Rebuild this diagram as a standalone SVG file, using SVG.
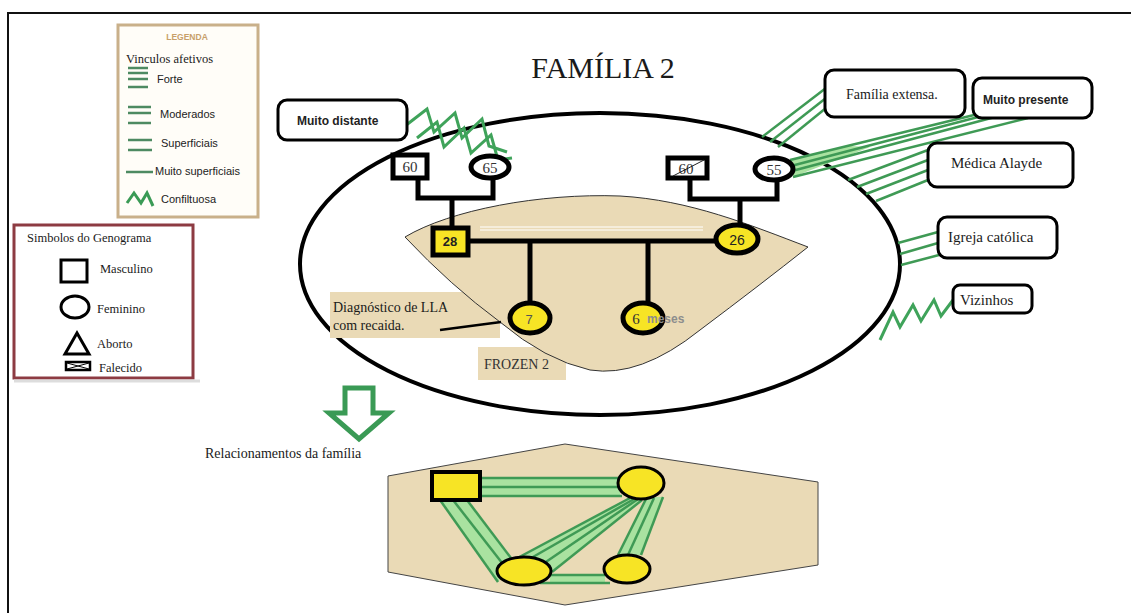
<svg xmlns="http://www.w3.org/2000/svg" width="1131" height="613" viewBox="0 0 1131 613">
  <style>
    .serif { font-family: "Liberation Serif", "Times New Roman", serif; fill: #1a1a1a; }
    .sans { font-family: "Liberation Sans", Arial, sans-serif; fill: #222; }
    .bold { font-weight: bold; }
    .geno { fill: none; stroke: #000; stroke-width: 5; }
    .male { stroke: #000; stroke-width: 5; }
    .yellow { fill: #f7e425; }
    .white { fill: #fff; }
    .box { fill: #fff; stroke: #000; stroke-width: 3; }
    .tie { stroke: #3f9a55; stroke-width: 2.5; fill: none; }
    .tiefill { fill: #a9e2a0; }
    .zig { stroke: #3fa35a; stroke-width: 3; fill: none; stroke-linejoin: miter; }
    .sym { fill: #fff; stroke: #000; stroke-width: 3; }
    .tan { fill: #eadab6; }
  </style>

  <!-- page frame -->
  <rect x="0" y="0" width="1131" height="613" fill="#fff"/>
  <path d="M8,613 V13 H1131" fill="none" stroke="#111" stroke-width="2"/>

  <!-- legend: affective ties -->
  <g id="legend-ties">
    <rect x="118" y="25" width="140" height="192" fill="#fffdf8" stroke="#c9b08a" stroke-width="3"/>
    <text x="187" y="40" text-anchor="middle" class="sans bold" font-size="8.5" style="fill:#c8a06a">LEGENDA</text>
    <text x="126" y="63" class="serif" font-size="12.5">Vinculos afetivos</text>
    <g stroke="#4d8a62" stroke-width="2.5">
      <line x1="128" y1="68" x2="148" y2="68"/>
      <line x1="128" y1="73" x2="148" y2="73"/>
      <line x1="128" y1="79" x2="148" y2="79"/>
      <line x1="128" y1="87" x2="148" y2="87"/>
      <line x1="128" y1="107" x2="151" y2="107"/>
      <line x1="128" y1="113" x2="151" y2="113"/>
      <line x1="128" y1="123" x2="151" y2="123"/>
      <line x1="128" y1="140" x2="152" y2="140"/>
      <line x1="128" y1="150" x2="152" y2="150"/>
      <line x1="126" y1="172" x2="153" y2="172"/>
    </g>
    <polyline points="127,203 134,193 141,203 147,193 153,206" fill="none" stroke="#3a9a55" stroke-width="3"/>
    <text x="157" y="83" class="sans" font-size="11">Forte</text>
    <text x="160" y="118" class="sans" font-size="11">Moderados</text>
    <text x="161" y="147" class="sans" font-size="11">Superficiais</text>
    <text x="155" y="175" class="sans" font-size="11">Muito superficiais</text>
    <text x="161" y="203" class="sans" font-size="11">Confiltuosa</text>
  </g>

  <!-- legend: genogram symbols -->
  <g id="legend-symbols">
    <rect x="14" y="225" width="179" height="153" fill="#fff" stroke="#8d3b42" stroke-width="3"/>
    <line x1="14" y1="381" x2="200" y2="381" stroke="#ddd" stroke-width="3"/>
    <text x="27" y="242" class="serif" font-size="12.5">Simbolos do Genograma</text>
    <rect x="61" y="260" width="26" height="22" class="sym"/>
    <text x="100" y="273" class="serif" font-size="12.5">Masculino</text>
    <ellipse cx="75" cy="307" rx="14" ry="11" class="sym"/>
    <text x="97" y="313" class="serif" font-size="12.5">Feminino</text>
    <polygon points="77,333 65,354 89,354" class="sym"/>
    <text x="97" y="348" class="serif" font-size="12.5">Aborto</text>
    <rect x="66" y="362" width="24" height="8" fill="#fff" stroke="#000" stroke-width="2.5"/>
    <path d="M67,363 L89,369 M67,369 L89,363" stroke="#000" stroke-width="1"/>
    <text x="99" y="372" class="serif" font-size="12.5">Falecido</text>
  </g>

  <!-- title -->
  <text id="title" x="603" y="78" text-anchor="middle" class="serif" font-size="30">FAMÍLIA 2</text>

  <!-- household ellipse and shaded core -->
  <g id="household">
    <ellipse cx="600" cy="264" rx="300" ry="151" fill="#fff" stroke="#000" stroke-width="4"/>
    <rect x="330" y="292" width="170" height="46" class="tan"/>
    <rect x="478" y="347" width="88" height="33" class="tan"/>
    <path d="M405,237 Q450,285 500,322 Q545,360 590,370 Q640,378 700,330 Q760,285 808,247 C750,225 690,200 620,196 C540,193 450,210 405,237 Z" class="tan" stroke="#333" stroke-width="1"/>
    <path d="M480,227 H703 M480,230 H703" stroke="#fff" stroke-width="1.2"/>
  </g>

  <!-- relationship ties -->
  <g id="connectors">
    <!-- conflict: Muito distante -->
    <polyline points="405,126 427,109 434,132 455,113 462,138 482,119 489,146 507,152" class="zig"/>
    <polyline points="417,138 437,122 444,147 464,128 471,153 491,135 498,160 512,158" class="zig"/>
    <!-- Família extensa -->
    <line x1="826" y1="88" x2="762" y2="137" class="tie"/>
    <line x1="826" y1="98" x2="770" y2="142" class="tie"/>
    <line x1="826" y1="108" x2="778" y2="147" class="tie"/>
    <!-- Muito presente -->
    <polygon points="850,146 870,147 793,177 790,160" class="tiefill"/>
    <line x1="974" y1="115" x2="790" y2="160" class="tie"/>
    <line x1="982" y1="116" x2="791" y2="166" class="tie"/>
    <line x1="995" y1="117" x2="792" y2="171" class="tie"/>
    <line x1="1028" y1="118" x2="793" y2="177" class="tie"/>
    <!-- Médica Alayde -->
    <line x1="928" y1="150" x2="848" y2="180" class="tie"/>
    <line x1="928" y1="160" x2="857" y2="187" class="tie"/>
    <line x1="928" y1="170" x2="866" y2="194" class="tie"/>
    <line x1="928" y1="180" x2="876" y2="201" class="tie"/>
    <!-- Igreja católica -->
    <line x1="938" y1="232" x2="898" y2="243" class="tie"/>
    <line x1="938" y1="243" x2="900" y2="254" class="tie"/>
    <line x1="939" y1="255" x2="901" y2="265" class="tie"/>
    <!-- conflict: Vizinhos -->
    <polyline points="953,300 941,316 934,300 921,321 913,305 900,327 893,312 880,340" class="zig"/>
  </g>

  <!-- genogram lines -->
  <g id="genogram-lines">
    <path d="M418,178 V198 H493 V178" class="geno"/>
    <path d="M452,198 V228" class="geno"/>
    <path d="M690,178 V199 H777 V180" class="geno"/>
    <path d="M740,199 V226" class="geno"/>
    <path d="M468,241 H717" class="geno"/>
    <path d="M530,241 V304" class="geno"/>
    <path d="M648,241 V303" class="geno"/>
    <line x1="440" y1="330" x2="501" y2="322" stroke="#000" stroke-width="2.5"/>
  </g>

  <!-- family members -->
  <g id="grandfather-paternal">
    <rect x="393" y="155" width="34" height="23" class="white male"/>
    <text x="410" y="172" text-anchor="middle" class="serif" font-size="15" style="fill:#333">60</text>
  </g>
  <g id="grandmother-paternal">
    <ellipse cx="490" cy="167" rx="19" ry="11" class="white male"/>
    <text x="490" y="173" text-anchor="middle" class="serif" font-size="15" style="fill:#333">65</text>
  </g>
  <g id="grandfather-maternal">
    <rect x="668" y="158" width="39" height="20" class="white male"/>
    <text x="686" y="174" text-anchor="middle" class="serif" font-size="15" style="fill:#333">60</text>
    <line x1="673" y1="176" x2="704" y2="160" stroke="#222" stroke-width="1"/>
  </g>
  <g id="grandmother-maternal">
    <ellipse cx="774" cy="169" rx="19" ry="11" class="white male"/>
    <text x="774" y="175" text-anchor="middle" class="serif" font-size="15" style="fill:#333">55</text>
  </g>
  <g id="father">
    <rect x="433" y="228" width="35" height="27" class="yellow male"/>
    <text x="450" y="246" text-anchor="middle" class="sans bold" font-size="13">28</text>
  </g>
  <g id="mother">
    <ellipse cx="737" cy="239" rx="21" ry="14" class="yellow male"/>
    <text x="737" y="245" text-anchor="middle" class="sans" font-size="14">26</text>
  </g>
  <g id="child-7">
    <ellipse cx="530" cy="318" rx="20" ry="15" class="yellow male"/>
    <text x="529" y="324" text-anchor="middle" class="sans" font-size="13" style="fill:#555">7</text>
  </g>
  <g id="child-6m">
    <ellipse cx="643" cy="318" rx="20" ry="15" class="yellow male"/>
    <text x="636" y="324" text-anchor="middle" class="serif" font-size="15" style="fill:#333">6</text>
    <text x="647" y="323" class="sans bold" font-size="12" style="fill:#8d8d8d">meses</text>
  </g>

  <!-- annotations -->
  <g id="annotations">
    <text x="333" y="312" class="serif" font-size="14">Diagnóstico de LLA</text>
    <text x="333" y="330" class="serif" font-size="14">com recaida.</text>
    <text x="484" y="369" class="serif" font-size="14" style="fill:#333">FROZEN 2</text>
  </g>

  <!-- external system boxes -->
  <g id="muito-distante">
    <rect x="278" y="100" width="129" height="40" rx="9" class="box"/>
    <text x="297" y="125" class="sans bold" font-size="12">Muito distante</text>
  </g>
  <g id="familia-extensa">
    <rect x="825" y="70" width="140" height="47" rx="9" class="box"/>
    <text x="846" y="99" class="serif" font-size="14">Família extensa.</text>
  </g>
  <g id="muito-presente">
    <rect x="973" y="78" width="119" height="40" rx="9" class="box"/>
    <text x="983" y="104" class="sans bold" font-size="12">Muito presente</text>
  </g>
  <g id="medica-alayde">
    <rect x="928" y="143" width="145" height="44" rx="9" class="box"/>
    <text x="951" y="168" class="serif" font-size="15">Médica Alayde</text>
  </g>
  <g id="igreja-catolica">
    <rect x="938" y="217" width="119" height="41" rx="9" class="box"/>
    <text x="948" y="242" class="serif" font-size="15">Igreja católica</text>
  </g>
  <g id="vizinhos">
    <rect x="953" y="285" width="79" height="28" rx="7" class="box"/>
    <text x="960" y="305" class="serif" font-size="15">Vizinhos</text>
  </g>

  <!-- transition arrow -->
  <g id="arrow">
    <polygon points="345,388 373,388 373,413 389,413 359,439 329,413 345,413" fill="#fff" stroke="#3a9a55" stroke-width="5" stroke-linejoin="miter"/>
    <text x="205" y="458" class="serif" font-size="14">Relacionamentos da família</text>
  </g>

  <!-- family relationships panel -->
  <g id="relations-panel">
    <polygon points="388,476 565,444 818,482 818,565 565,605 388,572" class="tan" stroke="#444" stroke-width="1"/>
  </g>
  <g id="relations-ties">
    <polygon points="480,478 620,478 620,496 480,496" class="tiefill"/>
    <line x1="480" y1="478" x2="622" y2="478" class="tie"/>
    <line x1="480" y1="487" x2="620" y2="487" class="tie"/>
    <line x1="480" y1="496" x2="622" y2="496" class="tie"/>
    <polygon points="440,500 467,500 513,562 498,582" class="tiefill"/>
    <line x1="440" y1="500" x2="498" y2="582" class="tie"/>
    <line x1="453" y1="500" x2="506" y2="568" class="tie"/>
    <line x1="467" y1="500" x2="514" y2="562" class="tie"/>
    <polygon points="630,498 642,500 552,572 510,562" class="tiefill"/>
    <line x1="630" y1="498" x2="510" y2="562" class="tie"/>
    <line x1="634" y1="499" x2="526" y2="561" class="tie"/>
    <line x1="638" y1="499" x2="540" y2="566" class="tie"/>
    <line x1="642" y1="500" x2="552" y2="572" class="tie"/>
    <polygon points="647,497 663,497 641,555 618,555" class="tiefill"/>
    <line x1="647" y1="497" x2="618" y2="555" class="tie"/>
    <line x1="654" y1="498" x2="628" y2="555" class="tie"/>
    <line x1="663" y1="497" x2="641" y2="555" class="tie"/>
    <polygon points="550,575 605,575 605,583 550,583" class="tiefill"/>
    <line x1="550" y1="575" x2="606" y2="575" class="tie"/>
    <line x1="540" y1="583" x2="610" y2="583" class="tie"/>
  </g>
  <g id="rel-father">
    <rect x="432" y="472" width="48" height="28" class="yellow" stroke="#000" stroke-width="4"/>
  </g>
  <g id="rel-mother">
    <ellipse cx="641" cy="483" rx="23" ry="16" class="yellow" stroke="#000" stroke-width="3"/>
  </g>
  <g id="rel-child-7">
    <ellipse cx="524" cy="571" rx="27" ry="14" class="yellow" stroke="#000" stroke-width="3"/>
  </g>
  <g id="rel-child-6m">
    <ellipse cx="627" cy="569" rx="23" ry="14" class="yellow" stroke="#000" stroke-width="3"/>
  </g>
</svg>
